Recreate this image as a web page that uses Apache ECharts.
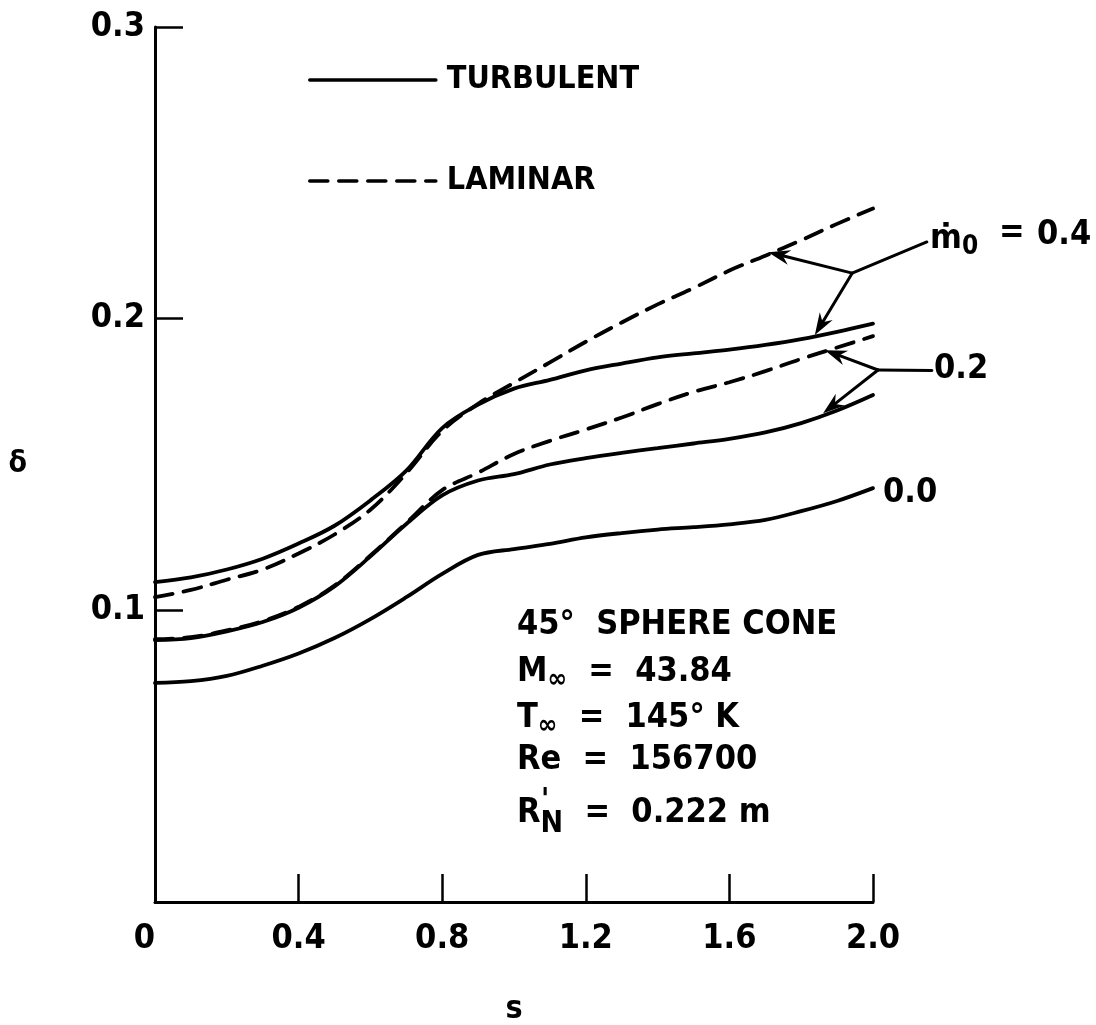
<!DOCTYPE html>
<html><head><meta charset="utf-8">
<script src="https://cdn.jsdelivr.net/npm/echarts@6/dist/echarts.min.js"></script>
<style>html,body{margin:0;padding:0;background:#fff}#c{width:1096px;height:1025px}</style>
</head><body><div id="c"></div>
<script>
// ---- data ----
const sVals  = [0,0.1,0.2,0.3,0.4,0.5,0.6,0.7,0.8,0.9,1.0,1.1,1.2,1.3,1.4,1.5,1.6,1.7,1.8,1.9,2.0];
const turb00 = [0.0751,0.0757,0.0775,0.0810,0.0852,0.0905,0.0970,0.1045,0.1125,0.1190,0.1210,0.1228,0.1250,0.1265,0.1277,0.1285,0.1295,0.1310,0.1340,0.1375,0.1419];
const turb02 = [0.0898,0.0905,0.0928,0.0960,0.1009,0.1082,0.1185,0.1296,0.1394,0.1445,0.1467,0.1500,0.1522,0.1540,0.1556,0.1572,0.1588,0.1610,0.1642,0.1685,0.1738];
const lam02  = [0.0901,0.0908,0.0931,0.0963,0.1012,0.1085,0.1188,0.1300,0.1412,0.1472,0.1536,0.1581,0.1620,0.1661,0.1707,0.1749,0.1782,0.1820,0.1862,0.1901,0.1940];
const turb04 = [0.1097,0.1113,0.1140,0.1177,0.1229,0.1290,0.1377,0.1479,0.1625,0.1705,0.1760,0.1790,0.1823,0.1846,0.1867,0.1881,0.1894,0.1910,0.1930,0.1955,0.1983];
const lam04  = [0.1045,0.1070,0.1105,0.1140,0.1195,0.1260,0.1345,0.1470,0.1615,0.1708,0.1780,0.1850,0.1921,0.1987,0.2049,0.2105,0.2165,0.2216,0.2269,0.2325,0.2378];
const xTickLabels = ['0','0.4','0.8','1.2','1.6','2.0'];
const yTickLabels = ['','0.1','0.2','0.3'];
const legendNames = ['TURBULENT','LAMINAR'];
// annotation leader lines (data coords)
const lead04 = [[2.150,0.2263],[1.942,0.2156]];
const arrows04 = [[[1.942,0.2156],[1.708,0.2228]],[[1.942,0.2156],[1.838,0.1944]]];
const lead02 = [[2.164,0.1822],[2.014,0.1824]];
const arrows02 = [[[2.014,0.1824],[1.866,0.1892]],[[2.014,0.1824],[1.861,0.1676]]];

const F = "'DejaVu Sans Condensed','DejaVu Sans',sans-serif";
const chart = echarts.init(document.getElementById('c'), null, {renderer:'canvas'});

function mk(name, arr, dashed){
  return {type:'line', name:name, data:sVals.map((s,i)=>[s,arr[i]]), smooth:0.35,
    symbol:'none', showSymbol:false, silent:true, animation:false, z: dashed?3:2,
    itemStyle:{color:'#000'},
    lineStyle:{color:'#000', width:3.8, type: dashed?[18,11]:'solid', cap:'round'}};
}

const big = {fontFamily:F, fontWeight:'bold', color:'#000'};
const rich = {
  m:{fontFamily:F, fontWeight:'bold', fontSize:34, lineHeight:40, color:'#000'},
  sub:{fontFamily:F, fontWeight:'bold', fontSize:26, lineHeight:40, padding:[16,0,0,0], color:'#000'},
  sub2:{fontFamily:F, fontWeight:'bold', fontSize:30, lineHeight:40, padding:[22,0,0,0], color:'#000'}
};
function T(x,y,text,size){return {type:'text', left:x, top:y, silent:true,
  style:{text:text, font:'bold '+(size||34)+'px '+F, fill:'#000', rich:rich}};}

chart.setOption({
  animation:false,
  backgroundColor:'#fff',
  grid:{left:155, right:223, top:27, bottom:123, containLabel:false, outerBoundsMode:'none'},
  legend:{data:legendNames, orient:'vertical', left:303, top:59, itemWidth:126, itemHeight:20,
    itemGap:69, selectedMode:false, itemStyle:{opacity:0},
    lineStyle:{width:3.6, color:'#000'},
    textStyle:Object.assign({fontSize:32, padding:[0,0,0,6]}, big)},
  xAxis:{type:'value', min:0, max:2.0, interval:0.4,
    axisLine:{lineStyle:{color:'#000', width:3}},
    axisTick:{inside:true, length:28, lineStyle:{color:'#000', width:2.5}},
    splitLine:{show:false},
    axisLabel:Object.assign({fontSize:34, margin:20, alignMinLabel:'right',
      formatter:(v)=>xTickLabels[Math.round(v/0.4)]}, big),
    name:'s', nameLocation:'middle', nameGap:92, nameTextStyle:Object.assign({fontSize:32}, big)},
  yAxis:{type:'value', min:0, max:0.3, interval:0.1,
    axisLine:{show:true, lineStyle:{color:'#000', width:3}},
    axisTick:{show:true, inside:true, length:28, lineStyle:{color:'#000', width:2.5}},
    splitLine:{show:false},
    axisLabel:Object.assign({fontSize:34, margin:10, padding:[5,0,0,0],
      formatter:(v)=>yTickLabels[Math.round(v/0.1)]}, big),
    name:'δ', nameLocation:'middle', nameRotate:0, nameGap:128, nameTextStyle:Object.assign({fontSize:30}, big)},
  series:[
    mk(legendNames[0], turb00, false),
    mk(legendNames[0], turb02, false),
    mk(legendNames[0], turb04, false),
    mk(legendNames[1], lam02, true),
    mk(legendNames[1], lam04, true)
  ]
});

// ---- annotations placed through the chart's own scales ----
function px(p){return chart.convertToPixel({gridIndex:0}, p);}
function lead(pair){
  const a=px(pair[0]), b=px(pair[1]);
  return {type:'line', silent:true, z:10, shape:{x1:a[0],y1:a[1],x2:b[0],y2:b[1]},
    style:{stroke:'#000', lineWidth:3, lineCap:'round'}};
}
function arrow(pair){
  const a=px(pair[0]), b=px(pair[1]);
  const dx=b[0]-a[0], dy=b[1]-a[1], L=Math.hypot(dx,dy), ux=dx/L, uy=dy/L, nx=-uy, ny=ux;
  const len=22, hw=7.5, notch=15;
  const bx=b[0]-ux*len, by=b[1]-uy*len, cx=b[0]-ux*notch, cy=b[1]-uy*notch;
  return [
    {type:'line', silent:true, z:10, shape:{x1:a[0],y1:a[1],x2:cx,y2:cy},
      style:{stroke:'#000', lineWidth:3, lineCap:'round'}},
    {type:'polygon', silent:true, z:10, shape:{points:[[b[0],b[1]],[bx+nx*hw,by+ny*hw],[cx,cy],[bx-nx*hw,by-ny*hw]]},
      style:{fill:'#000'}}
  ];
}
const g = [
  lead(lead04), ...arrow(arrows04[0]), ...arrow(arrows04[1]),
  lead(lead02), ...arrow(arrows02[0]), ...arrow(arrows02[1]),
  T(930,218,'ṁ{sub|0}',34),
  T(999,216,'=',34),
  T(1037,218,'0.4',34),
  T(934,352,'0.2',34),
  T(883,476,'0.0',34),
  T(517,608,'45°  SPHERE CONE',34),
  T(517,651,'{m|M}{sub|∞}  =  43.84',34),
  T(517,697,'{m|T}{sub|∞}  =  145° K',34),
  T(517,743,'Re  =  156700',34),
  T(517,787,'{m|R}{sub2|N}  =  0.222 m',34),
  T(541,786,"'",30)
];
chart.setOption({graphic:g});
</script></body></html>
